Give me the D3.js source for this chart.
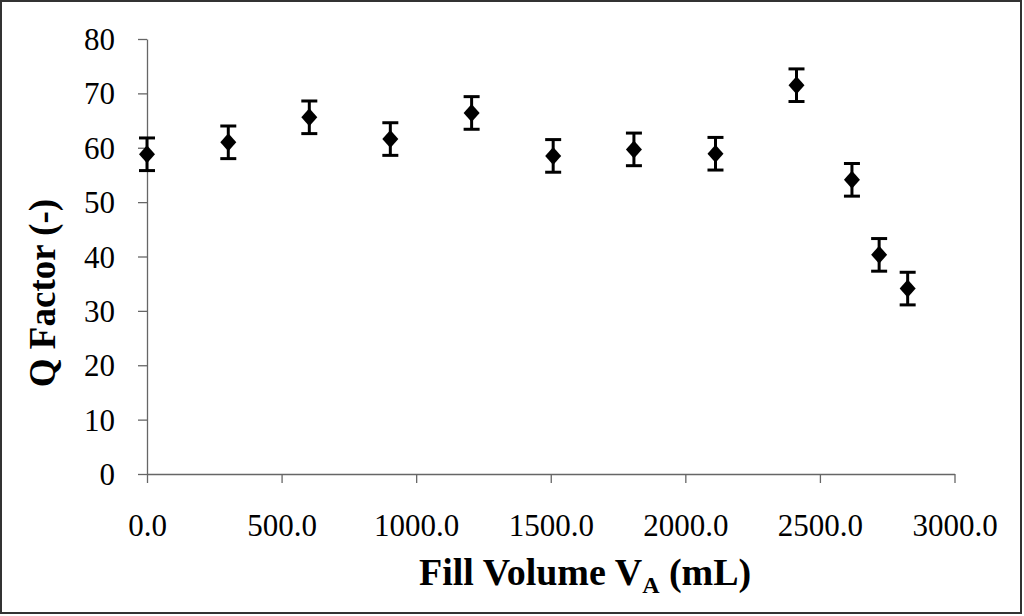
<!DOCTYPE html>
<html>
<head>
<meta charset="utf-8">
<script src="https://cdn.jsdelivr.net/npm/d3@7"></script>
<style>
  body { margin: 0; background: #fff; }
  svg { display: block; }
</style>
</head>
<body>
<div id="chart"></div>
<script>
// values
const fillVolume = [0, 302, 603, 904, 1206, 1509, 1809, 2112, 2413, 2619, 2720, 2826];
const qFactor    = [58.8, 61.0, 65.6, 61.6, 66.4, 58.5, 59.7, 58.9, 71.5, 54.1, 40.3, 34.1];
const qError     = [3.0, 3.0, 3.0, 3.0, 3.0, 3.0, 3.0, 3.0, 3.0, 3.0, 3.0, 3.0];
const xTicks = [0, 500, 1000, 1500, 2000, 2500, 3000];
const yTicks = [0, 10, 20, 30, 40, 50, 60, 70, 80];

const width = 1024, height = 616;
const margin = {left: 147, right: 69.5, top: 39, bottom: 142};

const svg = d3.select("#chart").append("svg")
    .attr("width", width)
    .attr("height", height);

// outer frame
svg.append("rect")
    .attr("x", 1).attr("y", 1)
    .attr("width", 1020).attr("height", 612)
    .attr("fill", "none")
    .attr("stroke", "#333")
    .attr("stroke-width", 2);

const x = d3.scaleLinear()
    .domain([0, 3000])
    .range([margin.left, width - margin.right]);

const y = d3.scaleLinear()
    .domain([0, 80])
    .range([height - margin.bottom, margin.top]);

const font = "'Liberation Serif', 'Times New Roman', serif";

// x axis
const xAxis = svg.append("g")
    .attr("transform", "translate(0," + y(0) + ")")
    .call(d3.axisBottom(x).tickValues(xTicks).tickSize(9).tickSizeOuter(0)
        .tickFormat(d3.format(".1f")));
xAxis.selectAll("text")
    .attr("font-family", font)
    .attr("font-size", 31)
    .attr("fill", "#000")
    .attr("y", 0)
    .attr("dy", 62);

// y axis
const yAxis = svg.append("g")
    .attr("transform", "translate(" + x(0) + ",0)")
    .call(d3.axisLeft(y).tickValues(yTicks).tickSize(9).tickSizeOuter(0));
yAxis.selectAll("text")
    .attr("font-family", font)
    .attr("font-size", 31)
    .attr("fill", "#000")
    .attr("x", -32)
    .attr("dy", "0.34em");

svg.selectAll(".domain, .tick line")
    .attr("stroke", "#666")
    .attr("stroke-width", 1.3);

// error bars
const bars = svg.append("g").selectAll("g")
    .data(fillVolume.map((v, i) => ({v: v, q: qFactor[i], e: qError[i]})))
    .join("g");

bars.append("line")
    .attr("x1", d => x(d.v)).attr("x2", d => x(d.v))
    .attr("y1", d => y(d.q + d.e)).attr("y2", d => y(d.q - d.e))
    .attr("stroke", "#000").attr("stroke-width", 3);

bars.selectAll("line.cap")
    .data(d => [{v: d.v, q: d.q + d.e}, {v: d.v, q: d.q - d.e}])
    .join("line")
    .attr("class", "cap")
    .attr("x1", d => x(d.v) - 8).attr("x2", d => x(d.v) + 8)
    .attr("y1", d => y(d.q)).attr("y2", d => y(d.q))
    .attr("stroke", "#000").attr("stroke-width", 3);

// diamond markers
bars.append("path")
    .attr("d", d => {
        const cx = x(d.v), cy = y(d.q);
        return "M" + cx + "," + (cy - 9) + "L" + (cx + 8) + "," + cy +
            "L" + cx + "," + (cy + 9) + "L" + (cx - 8) + "," + cy + "Z";
    })
    .attr("fill", "#000");

// axis titles
const xTitle = svg.append("text")
    .attr("x", 419)
    .attr("y", 585)
    .attr("text-anchor", "start")
    .attr("font-family", font)
    .attr("font-weight", "bold")
    .attr("font-size", 38)
    .attr("fill", "#000");
xTitle.append("tspan").text("Fill Volume V");
xTitle.append("tspan").attr("font-size", 24).attr("dy", 8).text("A");
xTitle.append("tspan").attr("dy", -8).text(" (mL)");

svg.append("text")
    .attr("transform", "translate(55,293) rotate(-90)")
    .attr("text-anchor", "middle")
    .attr("font-family", font)
    .attr("font-weight", "bold")
    .attr("font-size", 37)
    .attr("fill", "#000")
    .text("Q Factor (-)");
</script>
</body>
</html>
